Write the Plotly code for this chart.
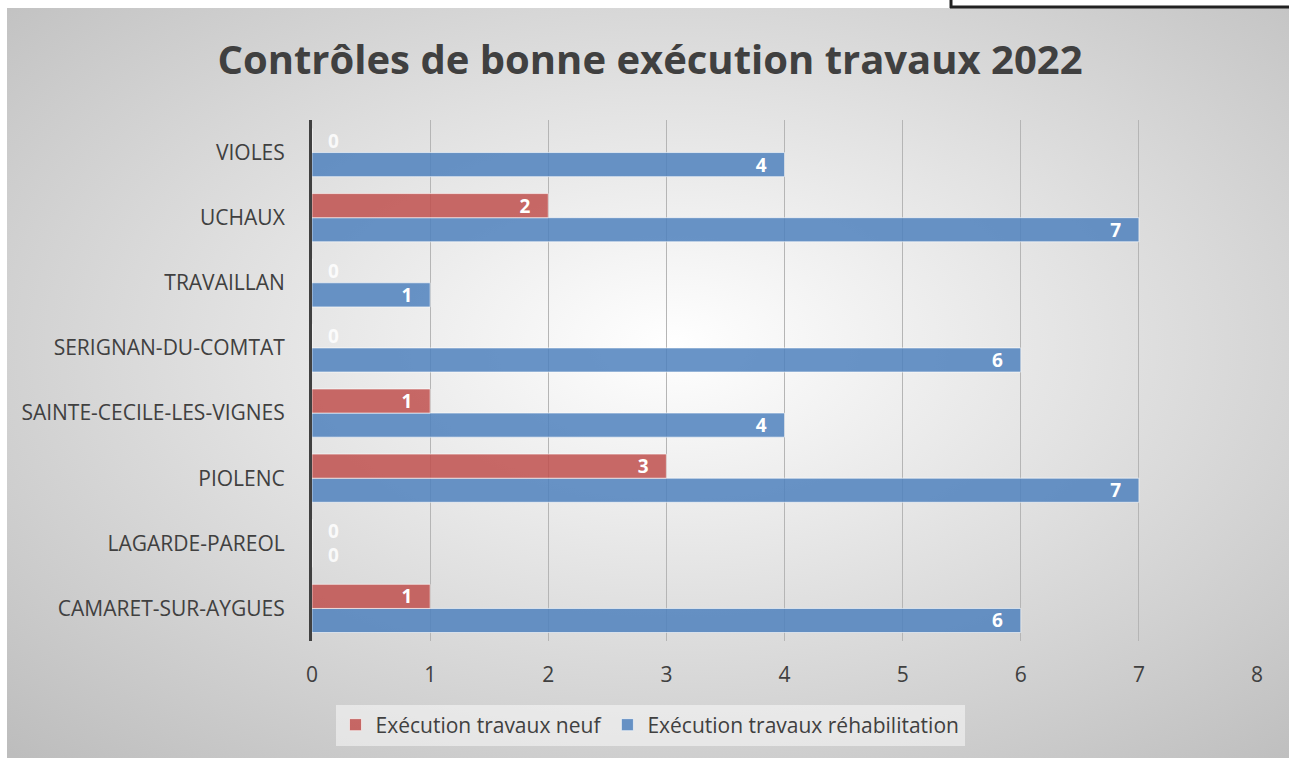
import base64
import plotly.graph_objects as go

communes = [
    "CAMARET-SUR-AYGUES",
    "LAGARDE-PAREOL",
    "PIOLENC",
    "SAINTE-CECILE-LES-VIGNES",
    "SERIGNAN-DU-COMTAT",
    "TRAVAILLAN",
    "UCHAUX",
    "VIOLES",
]
neuf = [1, 0, 3, 1, 0, 0, 2, 0]
rehabilitation = [6, 0, 7, 4, 6, 1, 7, 4]
x_ticks = [0, 1, 2, 3, 4, 5, 6, 7, 8]

title_text = "Contrôles de bonne exécution travaux 2022"
name_neuf = "Exécution travaux neuf"
name_rehab = "Exécution travaux réhabilitation"

FONT = "Open Sans"
TEXT_COLOR = "#404040"
RED = "rgba(192,80,77,0.85)"
BLUE = "rgba(79,129,189,0.85)"
LABEL_FONT = dict(family=FONT, size=19, color="white", weight="bold")
PAD = "\u00a0\u00a0\u00a0"  # keeps the value a little away from the bar end

W, H = 1289, 758
ML, MR, MT, MB = 312, 32, 120, 117
BARGAP = 0.26


def bar_labels(values):
    # zero-length bars get their label as an annotation instead
    return [f"{v}{PAD}" if v != 0 else "" for v in values]


fig = go.Figure()
fig.add_trace(go.Bar(
    y=communes, x=rehabilitation, orientation="h", name=name_rehab,
    marker=dict(color=BLUE, line=dict(color="rgba(255,255,255,0.6)", width=1)),
    text=bar_labels(rehabilitation), textposition="inside", textangle=0,
    insidetextanchor="end", constraintext="none", textfont=LABEL_FONT,
    legendrank=2,
))
fig.add_trace(go.Bar(
    y=communes, x=neuf, orientation="h", name=name_neuf,
    marker=dict(color=RED, line=dict(color="rgba(255,255,255,0.6)", width=1)),
    text=bar_labels(neuf), textposition="inside", textangle=0,
    insidetextanchor="end", constraintext="none", textfont=LABEL_FONT,
    legendrank=1,
))

pw = W - ML - MR
ph = H - MT - MB
band = ph / len(communes)
half_bar = band * (1 - BARGAP) / 4

annotations = []
for series, shift in ((neuf, half_bar), (rehabilitation, -half_bar)):
    for commune, v in zip(communes, series):
        if v == 0:
            annotations.append(dict(
                x=0, y=commune, xref="x", yref="y", text=str(v),
                showarrow=False, xanchor="center", yanchor="middle",
                xshift=21, yshift=shift, borderpad=0,
                font=dict(family=FONT, size=19, color="rgba(255,255,255,0.85)",
                          weight="bold"),
            ))

# radial grey backdrop of the chart frame
svg = (
    '<svg xmlns="http://www.w3.org/2000/svg" width="1282" height="750" '
    'preserveAspectRatio="none" viewBox="0 0 1282 750">'
    '<defs><radialGradient id="g" cx="52%" cy="45%" r="75%">'
    '<stop offset="0%" stop-color="#ffffff"/>'
    '<stop offset="100%" stop-color="#bdbdbd"/>'
    '</radialGradient></defs>'
    '<rect width="1282" height="750" fill="url(#g)"/></svg>'
)
src = "data:image/svg+xml;base64," + base64.b64encode(svg.encode()).decode()


def px(xp):
    return (xp - ML) / pw


def py(yp):
    return (H - MB - yp) / ph


fig.update_layout(
    width=W, height=H,
    margin=dict(l=ML, r=MR, t=MT, b=MB, pad=0),
    paper_bgcolor="white",
    plot_bgcolor="rgba(0,0,0,0)",
    barmode="group",
    bargap=BARGAP,
    bargroupgap=0.0,
    font=dict(family=FONT, color=TEXT_COLOR, size=21),
    title=dict(
        text=title_text, x=650 / W, xref="container", xanchor="center",
        y=1 - 60 / H, yref="container", yanchor="middle",
        font=dict(family=FONT, size=40, color=TEXT_COLOR, weight="bold"),
    ),
    xaxis=dict(
        range=[0, 8], tickvals=x_ticks, showgrid=True, gridcolor="#b5b5b5",
        gridwidth=1, zeroline=False, showline=False, ticks="",
        ticklabelstandoff=19, tickfont=dict(size=21, color=TEXT_COLOR),
        fixedrange=True,
    ),
    yaxis=dict(
        categoryorder="array", categoryarray=communes,
        showline=True, linecolor="#404040", linewidth=3,
        showgrid=False, ticks="", ticklabelstandoff=20,
        tickfont=dict(size=21, color=TEXT_COLOR), fixedrange=True,
    ),
    legend=dict(
        orientation="h", x=px(650), xanchor="center", y=py(725), yanchor="middle",
        bgcolor="rgba(250,250,250,0.55)", font=dict(size=21, color=TEXT_COLOR),
        itemwidth=30, tracegroupgap=0,
    ),
    showlegend=True,
    annotations=annotations,
    images=[dict(
        source=src, xref="paper", yref="paper",
        x=px(7), y=py(8), sizex=(W - 7) / pw, sizey=(H - 8) / ph,
        xanchor="left", yanchor="top", sizing="stretch", layer="below",
    )],
    shapes=[
        dict(type="line", xref="paper", yref="paper", x0=px(951), x1=px(951),
             y0=py(0), y1=py(8), line=dict(color="#222222", width=3)),
        dict(type="line", xref="paper", yref="paper", x0=px(950), x1=px(W),
             y0=py(7), y1=py(7), line=dict(color="#222222", width=3)),
    ],
)

fig.write_html("out.html")
